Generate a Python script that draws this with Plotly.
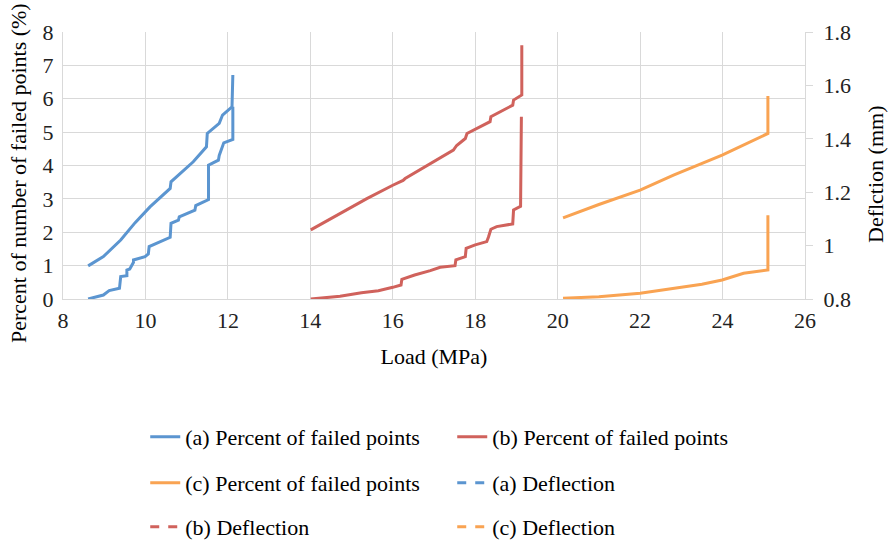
import plotly.graph_objects as go

# ---- data ----
a_pct_x = [8.61, 8.98, 9.12, 9.37, 9.40, 9.55, 9.55, 9.62, 9.71, 9.71, 9.99, 10.07, 10.09, 10.6, 10.62,
           10.8, 10.82, 11.2, 11.22, 11.53, 11.53, 11.77, 11.79, 11.86, 11.9, 12.12, 12.12]
a_pct_y = [0, 0.12, 0.25, 0.32, 0.67, 0.70, 0.87, 0.90, 1.10, 1.17, 1.27, 1.35, 1.57, 1.85, 2.27,
           2.36, 2.46, 2.66, 2.80, 2.98, 4.01, 4.16, 4.30, 4.51, 4.68, 4.78, 5.76]
a_def_x = [8.61, 8.98, 9.4, 9.75, 10.11, 10.6, 10.62, 11.16, 11.48, 11.5, 11.79, 11.87, 12.1, 12.12]
a_def_y = [0.924, 0.959, 1.021, 1.086, 1.145, 1.214, 1.239, 1.314, 1.370, 1.420, 1.458, 1.489, 1.520, 1.639]

b_pct_x = [14.01, 14.72, 15.24, 15.65, 16.0, 16.2, 16.22, 16.53, 16.91, 17.15, 17.51, 17.53, 17.76, 17.78,
           18.0, 18.28, 18.32, 18.38, 18.52, 18.91, 18.93, 19.1, 19.12]
b_pct_y = [0, 0.08, 0.19, 0.25, 0.35, 0.42, 0.59, 0.72, 0.85, 0.95, 1.0, 1.17, 1.27, 1.52,
           1.62, 1.72, 1.85, 2.09, 2.17, 2.25, 2.67, 2.78, 5.46]
b_def_x = [14.01, 14.72, 15.37, 16.0, 16.25, 16.3, 16.91, 17.47, 17.55, 17.76, 17.8, 18.36, 18.38,
           18.91, 18.93, 19.13, 19.13]
b_def_y = [1.059, 1.121, 1.176, 1.226, 1.244, 1.251, 1.308, 1.358, 1.375, 1.401, 1.420, 1.464, 1.483,
           1.526, 1.545, 1.564, 1.750]

c_pct_x = [20.13, 21.0, 22.0, 22.81, 23.5, 23.99, 24.51, 25.1, 25.1]
c_pct_y = [0.02, 0.07, 0.17, 0.32, 0.44, 0.57, 0.77, 0.87, 2.51]
c_def_x = [20.13, 21.0, 22.0, 22.81, 23.99, 24.51, 25.1, 25.1]
c_def_y = [1.104, 1.154, 1.208, 1.264, 1.339, 1.376, 1.420, 1.560]

names = ["(a) Percent of failed points", "(b) Percent of failed points",
         "(c) Percent of failed points", "(a) Deflection", "(b) Deflection", "(c) Deflection"]
colors = {"a": "#5B95D0", "b": "#D0625C", "c": "#F9A352"}

FONT = "Liberation Serif, Times New Roman, serif"
FS = 22

fig = go.Figure()
LW = 3
series = [("a", a_pct_x, a_pct_y, a_def_x, a_def_y),
          ("b", b_pct_x, b_pct_y, b_def_x, b_def_y),
          ("c", c_pct_x, c_pct_y, c_def_x, c_def_y)]
for k, px, py, dx, dy in series:
    fig.add_trace(go.Scatter(x=px, y=py, mode="lines", line=dict(color=colors[k], width=LW),
                             showlegend=False, hoverinfo="skip"))
    fig.add_trace(go.Scatter(x=dx, y=dy, mode="lines", yaxis="y2",
                             line=dict(color=colors[k], width=LW), showlegend=False, hoverinfo="skip"))

# legend entries (3 rows of 2)
legend_items = [
    ("legend", names[0], colors["a"], "solid"), ("legend", names[1], colors["b"], "solid"),
    ("legend2", names[2], colors["c"], "solid"), ("legend2", names[3], colors["a"], "dash"),
    ("legend3", names[4], colors["b"], "dash"), ("legend3", names[5], colors["c"], "dash"),
]
for lg, nm, col, dash in legend_items:
    fig.add_trace(go.Scatter(x=[None], y=[None], mode="lines", name=nm, legend=lg,
                             line=dict(color=col, width=LW, dash=dash)))

grid = "#d9d9d9"
H = 543
def ly(py):
    return 1 - py / H

leg_common = dict(orientation="h", xanchor="left", yanchor="middle", entrywidth=262,
                  entrywidthmode="pixels", font=dict(family=FONT, size=FS, color="#000"),
                  bgcolor="rgba(0,0,0,0)", xref="container", yref="container", x=0.163)
fig.update_layout(
    width=891, height=543,
    margin=dict(l=63, r=86, t=32, b=244),
    paper_bgcolor="white", plot_bgcolor="white",
    font=dict(family=FONT, size=FS, color="#000"),
    xaxis=dict(range=[8, 26], dtick=2, tick0=8, showgrid=True, gridcolor=grid, gridwidth=1,
               showline=True, linecolor=grid, linewidth=1, zeroline=False,
               ticks="outside", ticklen=2, tickcolor="rgba(0,0,0,0)",
               title=dict(text="Load (MPa)", standoff=16, font=dict(family=FONT, size=FS)),
               tickfont=dict(family=FONT, size=FS, color="#222")),
    yaxis=dict(range=[0, 8], dtick=1, showgrid=True, gridcolor=grid, gridwidth=1,
               showline=True, linecolor=grid, linewidth=1, zeroline=False,
               ticks="outside", ticklen=4, tickcolor="rgba(0,0,0,0)",
               tickfont=dict(family=FONT, size=FS, color="#222")),
    yaxis2=dict(range=[0.8, 1.8], dtick=0.2, tick0=0.8, overlaying="y", side="right",
                showgrid=False, showline=True, linecolor=grid, linewidth=1, zeroline=False,
                ticks="outside", ticklen=7, tickcolor=grid, ticklabelstandoff=6,
                tickfont=dict(family=FONT, size=FS, color="#222")),
    legend=dict(y=ly(437), **leg_common),
    legend2=dict(y=ly(483), **leg_common),
    legend3=dict(y=ly(527), **leg_common),
    annotations=[
        dict(text="Percent of number of failed points (%)", textangle=-90, xref="paper", yref="paper",
             x=(18 - 63) / 742, y=(299 - 173) / 267, xanchor="center", yanchor="middle",
             showarrow=False, font=dict(family=FONT, size=FS, color="#000")),
        dict(text="Deflction (mm)", textangle=-90, xref="paper", yref="paper",
             x=(875 - 63) / 742, y=(299 - 175) / 267, xanchor="center", yanchor="middle",
             showarrow=False, font=dict(family=FONT, size=FS, color="#000")),
    ],
)

fig.write_html("out.html")
